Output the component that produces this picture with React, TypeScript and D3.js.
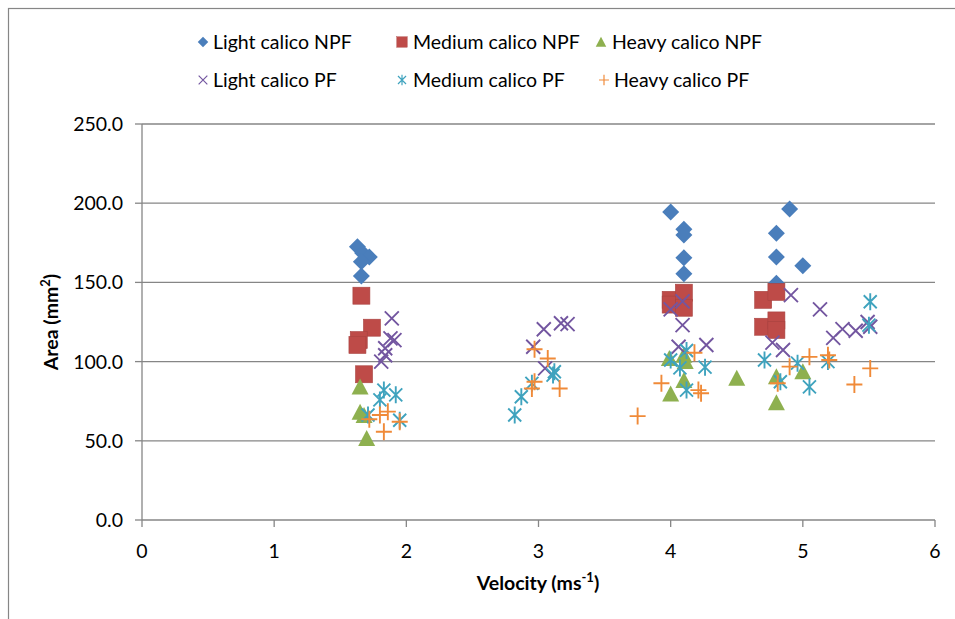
import React from "react";
import * as d3 from "d3";

const xTicks = [0, 1, 2, 3, 4, 5, 6];
const yTicks = [0, 50, 100, 150, 200, 250];

const lightNPF: [number, number][] = [
  [1.63, 172.5], [1.67, 168.5], [1.72, 166], [1.66, 163], [1.66, 154],
  [4.0, 194.5], [4.1, 183.5], [4.1, 180], [4.1, 165.5], [4.1, 155.5],
  [4.9, 196.3], [4.8, 181], [4.8, 166], [5.0, 160.5], [4.8, 149.5],
];
const mediumNPF: [number, number][] = [
  [1.66, 141.6], [1.74, 121.4], [1.64, 113.6], [1.63, 110.5], [1.68, 92],
  [4.0, 139], [4.0, 136], [4.1, 143.5], [4.1, 134],
  [4.7, 139], [4.8, 144], [4.7, 122], [4.8, 126], [4.8, 120],
];
const heavyNPF: [number, number][] = [
  [1.65, 84], [1.65, 68], [1.68, 66], [1.7, 51.5],
  [3.99, 102], [4.1, 104], [4.11, 100], [4.1, 88], [4.0, 79.5], [4.5, 89.5],
  [4.8, 90.5], [4.8, 74], [5.0, 93.6],
];
const lightPF: [number, number][] = [
  [1.89, 127.3], [1.88, 114.7], [1.91, 113.6], [1.84, 108.4], [1.84, 104], [1.81, 100],
  [2.96, 109.4], [3.04, 120.4], [3.17, 124.2], [3.22, 123.7], [3.05, 95.7],
  [4.0, 133], [4.09, 138], [4.09, 123], [4.06, 109.4], [4.27, 110.5],
  [4.91, 142], [5.13, 133], [5.23, 115], [5.3, 120.5], [5.4, 119.5], [5.49, 125], [5.51, 122],
  [4.77, 112], [4.85, 107.3],
];
const mediumPF: [number, number][] = [
  [1.83, 82], [1.92, 79], [1.8, 75.8], [1.71, 66.3], [1.95, 63],
  [2.82, 66.3], [2.87, 77.8], [2.95, 86.3], [3.12, 93.6], [3.11, 91.5],
  [4.0, 101], [4.12, 107], [4.07, 96], [4.26, 96.5], [4.12, 82],
  [4.71, 101], [4.83, 87.3], [4.96, 99], [5.05, 84], [5.19, 100], [5.51, 137.8], [5.5, 123],
];
const heavyPF: [number, number][] = [
  [1.86, 68.4], [1.8, 66.3], [1.72, 63.6], [1.95, 62], [1.83, 55.7],
  [2.97, 107.8], [3.07, 102], [2.97, 87.3], [2.95, 83], [3.16, 83],
  [3.75, 65.6], [3.93, 86.3], [4.18, 105.6], [4.21, 82], [4.23, 80],
  [4.81, 86.3], [4.9, 96.8], [5.05, 103], [5.19, 104], [5.2, 101], [5.39, 85.5], [5.51, 95.7],
];

type Shape = "diamond" | "square" | "triangle" | "x" | "star" | "plus";

const seriesList: { name: string; data: [number, number][]; shape: Shape; color: string }[] = [
  { name: "Light calico NPF", data: lightNPF, shape: "diamond", color: "#4A7EBB" },
  { name: "Medium calico NPF", data: mediumNPF, shape: "square", color: "#BE4B48" },
  { name: "Heavy calico NPF", data: heavyNPF, shape: "triangle", color: "#8EB04F" },
  { name: "Light calico PF", data: lightPF, shape: "x", color: "#7356A0" },
  { name: "Medium calico PF", data: mediumPF, shape: "star", color: "#3FA3BE" },
  { name: "Heavy calico PF", data: heavyPF, shape: "plus", color: "#F08A38" },
];

const FONT = "Lato, 'Open Sans', sans-serif";

function Marker({ shape, color, x, y, s = 1 }: { shape: Shape; color: string; x: number; y: number; s?: number }) {
  const t = `translate(${x},${y}) scale(${s})`;
  switch (shape) {
    case "diamond":
      return <path transform={t} d="M0,-8.5L8.5,0L0,8.5L-8.5,0Z" fill={color} />;
    case "square":
      return <rect transform={t} x={-8.5} y={-8.5} width={17} height={17} fill={color} stroke="#A84340" strokeWidth={0.6} />;
    case "triangle":
      return <path transform={t} d="M0,-8.5L8.5,7.5L-8.5,7.5Z" fill={color} />;
    case "x":
      return <path transform={t} d="M-7,-7L7,7M-7,7L7,-7" stroke={color} strokeWidth={1.9} fill="none" />;
    case "star":
      return <path transform={t} d="M-6.5,-6.5L6.5,6.5M-6.5,6.5L6.5,-6.5M0,-8.5L0,8.5" stroke={color} strokeWidth={1.9} fill="none" />;
    case "plus":
      return <path transform={t} d="M-8,0L8,0M0,-8.5L0,8.5" stroke={color} strokeWidth={1.9} fill="none" />;
  }
}

export default function App() {
  const W = 955, H = 619;
  const x = d3.scaleLinear().domain([0, 6]).range([142, 935]);
  const y = d3.scaleLinear().domain([0, 250]).range([520, 124]);
  const grid = "#868686";

  const legendPos = [
    { mx: 203, tx: 213, y: 42 },
    { mx: 402, tx: 413, y: 42 },
    { mx: 601, tx: 612, y: 42 },
    { mx: 203, tx: 213, y: 80 },
    { mx: 402, tx: 413, y: 80 },
    { mx: 604, tx: 614, y: 80 },
  ];

  return (
    <svg width={W} height={H} style={{ position: "absolute", left: 0, top: 0, background: "#fff" }}>
      <rect x={8.5} y={8.5} width={980} height={640} fill="#fff" stroke={grid} strokeWidth={1.2} />
      {yTicks.map((t) => (
        <g key={"y" + t}>
          {t > 0 && <line x1={142} x2={935} y1={y(t)} y2={y(t)} stroke={grid} strokeWidth={1.3} />}
          <line x1={135} x2={142} y1={y(t)} y2={y(t)} stroke={grid} strokeWidth={1.3} />
          <text x={123} y={y(t)} dy="0.36em" textAnchor="end" fontFamily={FONT} fontSize={19.5} fill="#000">
            {d3.format(".1f")(t)}
          </text>
        </g>
      ))}
      {xTicks.map((t) => (
        <g key={"x" + t}>
          <line x1={x(t)} x2={x(t)} y1={520} y2={527} stroke={grid} strokeWidth={1.3} />
          <text x={x(t)} y={558} textAnchor="middle" fontFamily={FONT} fontSize={19.5} fill="#000">
            {t}
          </text>
        </g>
      ))}
      <line x1={142} x2={142} y1={124} y2={520} stroke={grid} strokeWidth={1.3} />
      <line x1={142} x2={935} y1={520} y2={520} stroke={grid} strokeWidth={1.3} />

      {seriesList.map((s) => (
        <g key={s.name}>
          {s.data.map((d, i) => (
            <Marker key={i} shape={s.shape} color={s.color} x={x(d[0])} y={y(d[1])} />
          ))}
        </g>
      ))}

      {seriesList.map((s, i) => (
        <g key={"l" + s.name}>
          <Marker shape={s.shape} color={s.color} x={legendPos[i].mx} y={legendPos[i].y} s={0.62} />
          <text x={legendPos[i].tx} y={legendPos[i].y} dy="0.36em" fontFamily={FONT} fontSize={19.5} fill="#000">
            {s.name}
          </text>
        </g>
      ))}

      <text transform="translate(58,322) rotate(-90)" textAnchor="middle" fontFamily={FONT} fontSize={19.5} fontWeight="bold" fill="#000">
        Area (mm<tspan baselineShift="super" fontSize={13}>2</tspan>)
      </text>
      <text x={538} y={590} textAnchor="middle" fontFamily={FONT} fontSize={19.5} fontWeight="bold" fill="#000">
        Velocity (ms<tspan baselineShift="super" fontSize={13}>-1</tspan>)
      </text>
    </svg>
  );
}
